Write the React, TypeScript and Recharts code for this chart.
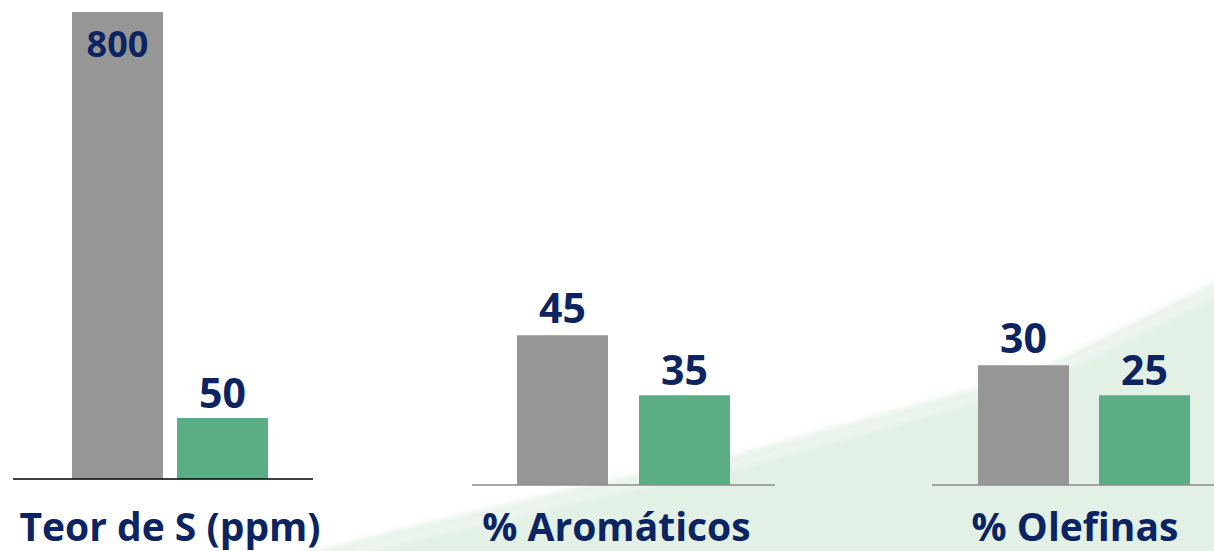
import React from 'react';
import { BarChart, Bar, XAxis, YAxis, LabelList } from 'recharts';

const categories = ['Teor de S (ppm)', '% Aromáticos', '% Olefinas'];
const antes = [800, 45, 30];
const depois = [50, 35, 25];
const domains: [number, number][] = [
  [0, 383],
  [20, 99],
  [10, 89],
];

const COLORS = {
  antes: '#969696',
  depois: '#5BAE83',
  text: '#0C2461',
};

const FONT = '"Open Sans", "DejaVu Sans", sans-serif';

interface PanelProps {
  index: number;
  left: number;
  width: number;
  axisY: number;
  padLeft: number;
  barGap: number;
  labelDx: number;
  axisColor: string;
}

const PLOT_TOP = 12;
const HEIGHT = 551;
const SIDE = 40; // extra room so the category text is not clipped

const Panel: React.FC<PanelProps> = ({ index, left, width, axisY, padLeft, barGap, labelDx, axisColor }) => {
  const data = [{ name: categories[index], antes: antes[index], depois: depois[index] }];
  const clipped = index === 0;

  const renderTick = (props: any) => {
    const { x, y, payload } = props;
    return (
      <text
        x={x + labelDx}
        y={y + (541 - axisY)}
        textAnchor="middle"
        fill={COLORS.text}
        fontFamily={FONT}
        fontWeight={700}
        fontSize={39}
      >
        {payload.value}
      </text>
    );
  };

  // in the first panel the gray bar runs off the top, so its label sits inside
  const renderAntesLabel = (props: any) => {
    const { x, y, width: w, value } = props;
    const base = clipped ? PLOT_TOP + 45 : y - 12;
    return (
      <text
        x={x + w / 2}
        y={base}
        textAnchor="middle"
        fill={COLORS.text}
        fontFamily={FONT}
        fontWeight={700}
        fontSize={clipped ? 36 : 41}
      >
        {value}
      </text>
    );
  };

  const renderDepoisLabel = (props: any) => {
    const { x, y, width: w, value } = props;
    return (
      <text x={x + w / 2} y={y - 10} textAnchor="middle" fill={COLORS.text} fontFamily={FONT} fontWeight={700} fontSize={41}>
        {value}
      </text>
    );
  };

  return (
    <div style={{ position: 'absolute', left: left - SIDE, top: 0 }}>
      <BarChart
        width={width + SIDE * 2}
        height={HEIGHT}
        data={data}
        margin={{ top: PLOT_TOP, right: SIDE, left: SIDE, bottom: 0 }}
        barGap={barGap}
        barSize={91}
      >
        <XAxis
          dataKey="name"
          height={HEIGHT - axisY}
          axisLine={{ stroke: axisColor, strokeWidth: 1.5 }}
          tickLine={false}
          tickSize={0}
          tickMargin={0}
          padding={{ left: padLeft, right: 0 }}
          tick={renderTick}
          interval={0}
        />
        <YAxis hide domain={domains[index]} allowDataOverflow type="number" />
        <Bar dataKey="antes" fill={COLORS.antes} isAnimationActive={false}>
          <LabelList dataKey="antes" content={renderAntesLabel} />
        </Bar>
        <Bar dataKey="depois" fill={COLORS.depois} isAnimationActive={false}>
          <LabelList dataKey="depois" content={renderDepoisLabel} />
        </Bar>
      </BarChart>
    </div>
  );
};

const Background: React.FC = () => (
  <svg width={1214} height={551} style={{ position: 'absolute', left: 0, top: 0 }}>
    <defs>
      <filter id="soft" x="-10%" y="-20%" width="120%" height="140%">
        <feGaussianBlur stdDeviation="3" />
      </filter>
    </defs>
    <polygon
      points="318,551 400,530 600,483 730,457 1033,373 1180,300 1214,284 1230,284 1230,570 318,570"
      fill="#E2F0E5"
      filter="url(#soft)"
    />
    <polyline
      points="330,558 400,539 600,492 730,466 1033,382 1180,309 1230,287"
      fill="none"
      stroke="#F2F8F3"
      strokeWidth={9}
      opacity={0.8}
      filter="url(#soft)"
    />
  </svg>
);

export default function App() {
  return (
    <div style={{ position: 'absolute', left: 0, top: 0, width: 1214, height: 551, background: '#fff', overflow: 'hidden' }}>
      <Background />
      <Panel index={0} left={13} width={300} axisY={479} padLeft={14} barGap={14} labelDx={0} axisColor="#000000" />
      <Panel index={1} left={472} width={303} axisY={485} padLeft={0} barGap={31} labelDx={-7} axisColor="#8C8C8C" />
      <Panel index={2} left={932} width={282} axisY={485} padLeft={22} barGap={30} labelDx={-9} axisColor="#8C8C8C" />
    </div>
  );
}
